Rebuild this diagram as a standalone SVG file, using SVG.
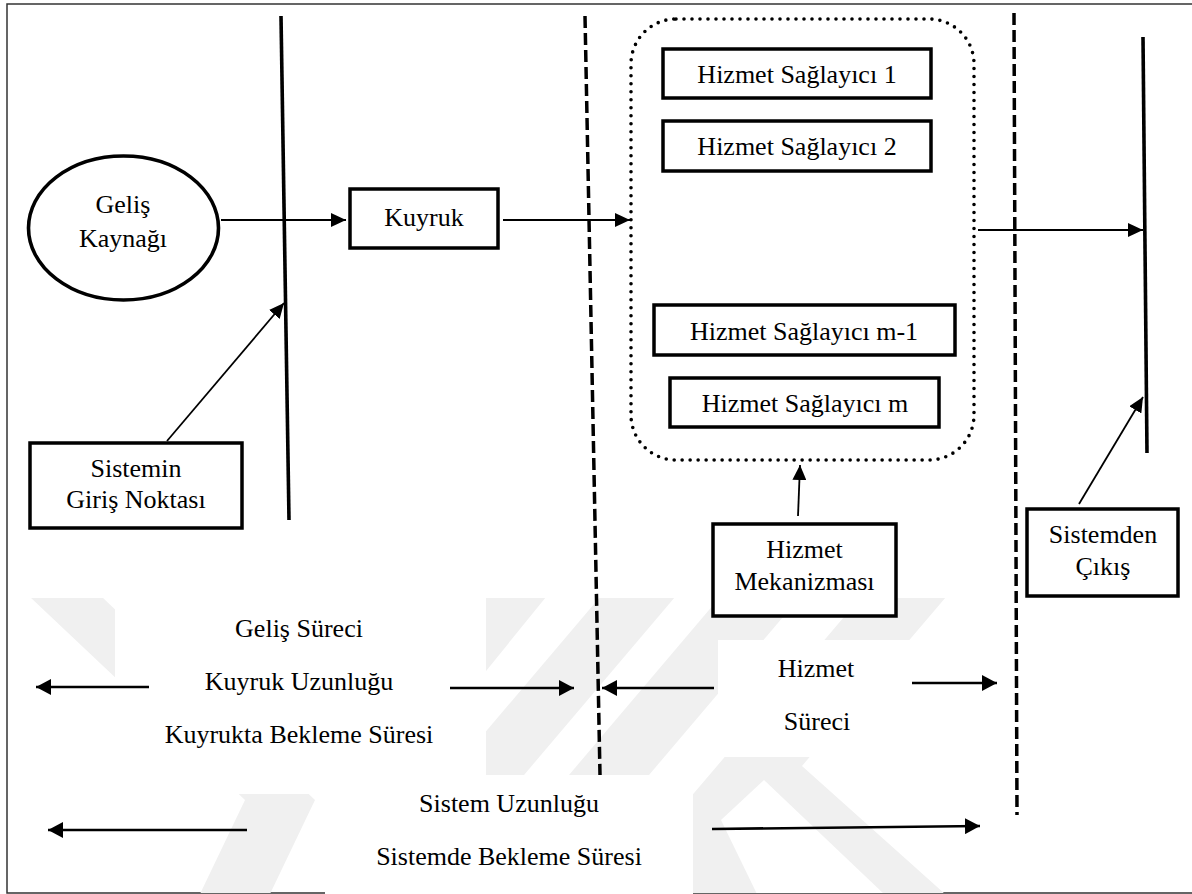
<svg xmlns="http://www.w3.org/2000/svg" width="1192" height="894" viewBox="0 0 1192 894">
  <style>
    .lbl { font-family: "Liberation Serif", "Times New Roman", serif; font-size: 26px; fill: #000; text-anchor: middle; }
    .box { fill: #fff; stroke: #000; stroke-width: 3.5; }
    .wm { fill: #f0f0f0; }
    .mask { fill: #fff; }
    .arrow { fill: none; stroke: #000; stroke-width: 1.8; marker-end: url(#head); }
    .arrow-b { fill: none; stroke: #000; stroke-width: 2.6; marker-end: url(#headB); }
    .bound { fill: none; stroke: #000; stroke-width: 3.6; }
    .dash { fill: none; stroke: #000; stroke-width: 3.5; stroke-dasharray: 12 5; }
    .dots { fill: none; stroke: #000; stroke-width: 3.6; stroke-dasharray: 0 8; stroke-linecap: round; }
  </style>
  <defs>
    <marker id="head" markerUnits="userSpaceOnUse" markerWidth="16" markerHeight="14" refX="15" refY="7" orient="auto">
      <path d="M0,0 L15,7 L0,14 Z" fill="#000"/>
    </marker>
    <marker id="headB" markerUnits="userSpaceOnUse" markerWidth="16" markerHeight="16" refX="15" refY="8" orient="auto">
      <path d="M0,0 L15,8 L0,16 Z" fill="#000"/>
    </marker>
    <clipPath id="wmArea">
      <rect x="8" y="598" width="1184" height="295"/>
    </clipPath>
  </defs>

  <rect x="0" y="0" width="1192" height="894" fill="#fff"/>

  <!-- outer frame -->
  <g id="frame" fill="none" stroke="#333" stroke-width="1.5">
    <path d="M1192,4 H7 V893 H1192"/>
  </g>

  <!-- faint background logo in the lower band -->
  <g id="backdrop" clip-path="url(#wmArea)">
    <polygon class="wm" points="30,597 102,597 315,800 270,894 200,894 245,800"/>
    <polygon class="wm" points="420,597 546,597 400,777 274,777"/>
    <polygon class="wm" points="600,597 675,597 524,775 449,775"/>
    <polygon class="wm" points="720,597 800,597 649,775 569,775"/>
    <polygon class="wm" points="861,597 946,597 802,766 945,894 608,894"/>
    <polygon class="mask" points="764,780 884,894 757,894 721,820"/>
  </g>

  <!-- white panels behind the lower labels -->
  <g id="panels">
    <rect class="mask" x="115" y="598" width="371" height="179"/>
    <rect class="mask" x="115" y="776" width="210" height="18"/>
    <rect class="mask" x="718" y="640" width="192" height="117"/>
    <rect class="mask" x="325" y="775" width="368" height="119"/>
  </g>

  <!-- boundary lines -->
  <g id="boundaries">
    <line class="bound" x1="281" y1="16" x2="289" y2="520"/>
    <line class="dash" x1="585" y1="16" x2="600" y2="775"/>
    <line class="dash" x1="1014" y1="13" x2="1017" y2="815"/>
    <line class="bound" x1="1143" y1="37" x2="1147" y2="453"/>
  </g>

  <!-- service mechanism enclosure -->
  <g id="service-area">
    <rect class="dots" x="631" y="19" width="343" height="441" rx="45" ry="45"/>
  </g>

  <!-- nodes -->
  <g id="source">
    <ellipse cx="123.5" cy="228" rx="95" ry="72" fill="#fff" stroke="#000" stroke-width="3.6"/>
    <text class="lbl" x="123" y="213">Geliş</text>
    <text class="lbl" x="123" y="247">Kaynağı</text>
  </g>

  <g id="queue">
    <rect class="box" x="350" y="189" width="148" height="59"/>
    <text class="lbl" x="424" y="226">Kuyruk</text>
  </g>

  <g id="server-1">
    <rect class="box" x="663" y="49" width="268" height="49"/>
    <text class="lbl" x="797" y="83">Hizmet Sağlayıcı 1</text>
  </g>

  <g id="server-2">
    <rect class="box" x="663" y="121" width="268" height="50"/>
    <text class="lbl" x="797" y="155">Hizmet Sağlayıcı 2</text>
  </g>

  <g id="server-m-1">
    <rect class="box" x="654" y="305" width="301" height="50"/>
    <text class="lbl" x="804" y="340">Hizmet Sağlayıcı m-1</text>
  </g>

  <g id="server-m">
    <rect class="box" x="670" y="378" width="269" height="49"/>
    <text class="lbl" x="805" y="412">Hizmet Sağlayıcı m</text>
  </g>

  <g id="entry-point">
    <rect class="box" x="30" y="443" width="212" height="85"/>
    <text class="lbl" x="136" y="477">Sistemin</text>
    <text class="lbl" x="136" y="508">Giriş Noktası</text>
  </g>

  <g id="mechanism">
    <rect class="box" x="713" y="524" width="183" height="92"/>
    <text class="lbl" x="804.5" y="558">Hizmet</text>
    <text class="lbl" x="804.5" y="590">Mekanizması</text>
  </g>

  <g id="exit">
    <rect class="box" x="1027" y="509" width="151" height="87"/>
    <text class="lbl" x="1103" y="543">Sistemden</text>
    <text class="lbl" x="1103" y="575">Çıkış</text>
  </g>

  <!-- lower labels -->
  <g id="arrival-process">
    <text class="lbl" x="299" y="637">Geliş Süreci</text>
    <text class="lbl" x="299" y="690">Kuyruk Uzunluğu</text>
    <text class="lbl" x="299" y="743">Kuyrukta Bekleme Süresi</text>
  </g>

  <g id="service-process">
    <text class="lbl" x="816" y="677">Hizmet</text>
    <text class="lbl" x="817" y="730">Süreci</text>
  </g>

  <g id="system-measures">
    <text class="lbl" x="509" y="812">Sistem Uzunluğu</text>
    <text class="lbl" x="509" y="865">Sistemde Bekleme Süresi</text>
  </g>

  <!-- connectors -->
  <g id="connectors">
    <path class="arrow" d="M221,220 L346,220"/>
    <path class="arrow" d="M503,220 L630,220"/>
    <path class="arrow" d="M978,230 L1143,230"/>
    <path class="arrow" d="M167,441 L284,303"/>
    <path class="arrow" d="M798,516 L800,465"/>
    <path class="arrow" d="M1079,504 L1143,397"/>
    <path class="arrow-b" d="M149,687 L36,687"/>
    <path class="arrow-b" d="M450,688 L574,688"/>
    <path class="arrow-b" d="M714,688 L602,688"/>
    <path class="arrow-b" d="M912,683 L997,683"/>
    <path class="arrow-b" d="M247,830 L48,830"/>
    <path class="arrow-b" d="M712,829 L980,826"/>
  </g>
</svg>
